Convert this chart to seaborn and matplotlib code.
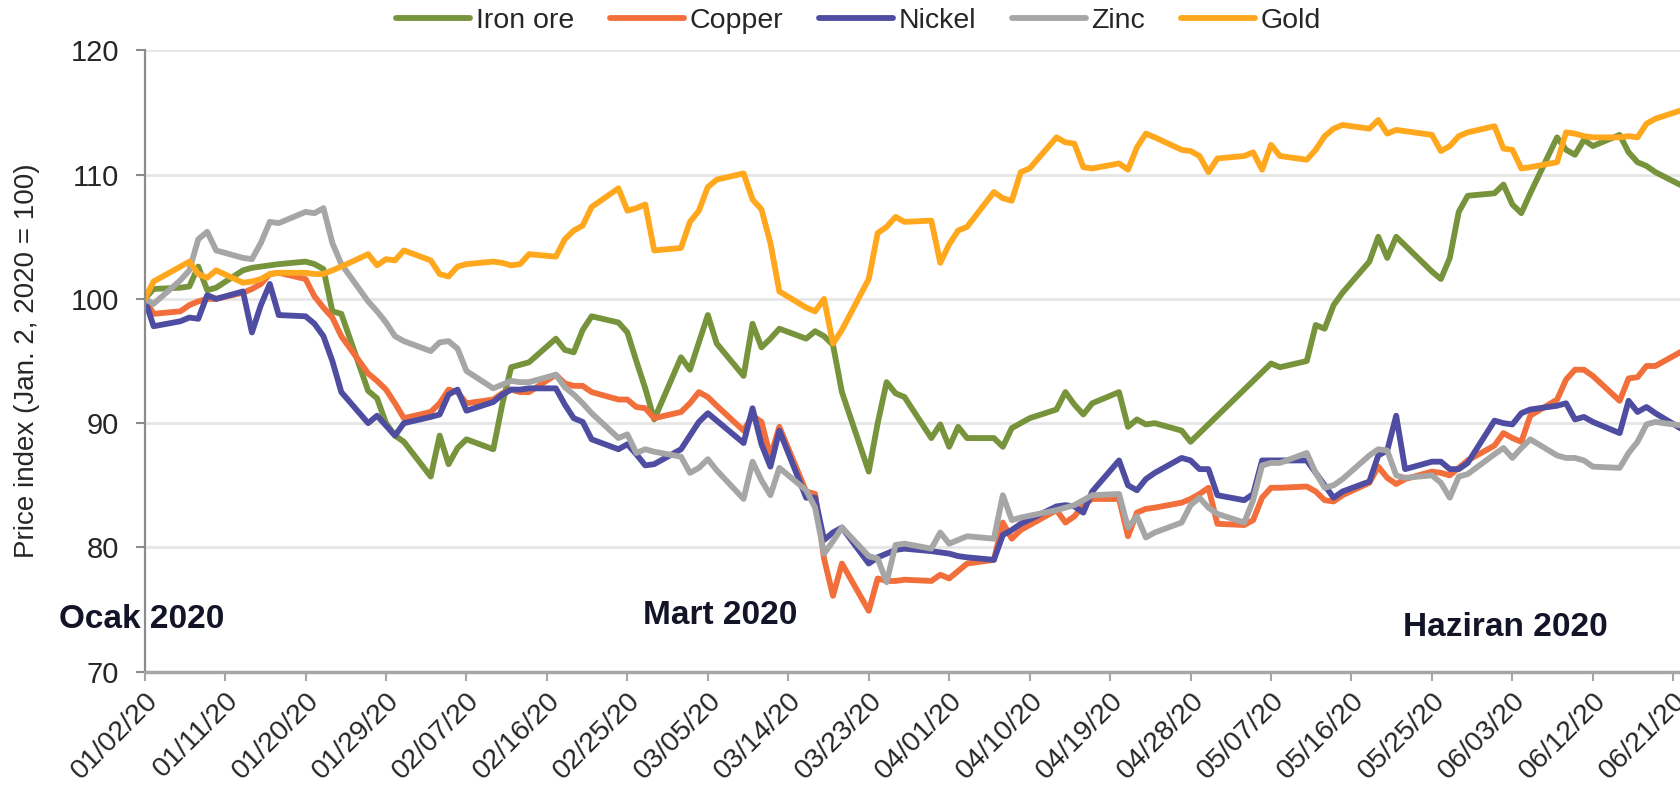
import numpy as np
import pandas as pd
import matplotlib
matplotlib.use("Agg")
import matplotlib.pyplot as plt
import matplotlib.dates as mdates
import seaborn as sns

# trading days on the chart (weekdays 2 Jan - 23 Jun 2020); nan = no quote that day
dates = pd.bdate_range("2020-01-02", "2020-06-23")
nan = np.nan

iron_ore = [
    100, 100.8, 100.9, 101.0, 102.6, 100.7, 100.9, 102.3, 102.5, 102.6, 102.7,
    102.8, 103.0, 102.8, 102.4, 99.0, 98.8, 92.6, 92.0, 90.0, 89.0, 88.5,  # Jan
    85.7, 89.0, 86.7, 88.0, 88.7, 87.9, 91.5, 94.5, 94.7, 94.9, 96.8, 95.9,
    95.7, 97.5, 98.6, 98.1, 97.3, 95.0, 92.8, 90.3,  # Feb
    95.3, 94.3, 96.5, 98.7, 96.4, 93.8, 98.0, 96.1, 96.8, 97.6, 96.8, 97.4,
    97.0, 96.3, 92.5, 86.1, 90.0, 93.3, 92.4, 92.1, 88.8, 89.9,  # Mar
    88.1, 89.7, 88.8, 88.8, 88.1, 89.6, 90.0, 90.4, 91.1, 92.5, 91.5, 90.7,
    91.6, 92.5, 89.7, 90.3, 89.9, 90.0, 89.4, 88.5, nan, nan,  # Apr
    nan, nan, nan, nan, 94.8, 94.5, 95.0, 97.9, 97.6, 99.5, 100.5, 103.0,
    105.0, 103.3, 105.0, 104.3, 102.2, 101.6, 103.3, 107.0, 108.3,  # May
    108.5, 109.2, 107.6, 106.9, 108.5, 113.0, 112.0, 111.6, 112.8, 112.3,
    113.2, 111.8, 111.0, 110.7, 110.2, 109.1, 108.8,  # Jun
]
copper = [
    100, 98.8, 99.0, 99.5, 99.8, 100.0, 100.0, 100.5, 100.8, 101.2, 102.0,
    102.1, 101.6, 100.2, 99.3, 98.5, 97.0, 94.0, 93.4, 92.7, 91.6, 90.4,
    90.9, 91.6, 92.7, 92.5, 91.6, 91.9, 92.4, 92.7, 92.5, 92.5, 93.9, 93.2,
    93.0, 93.0, 92.5, 91.9, 91.9, 91.3, 91.2, 90.4,
    90.9, 91.6, 92.5, 92.1, 91.4, 89.4, 90.6, 90.1, 87.3, 89.7, 84.5, 84.3,
    79.1, 76.1, 78.7, 74.9, 77.5, 77.3, 77.3, 77.4, 77.3, 77.8,
    77.5, 78.1, 78.7, 79.0, 82.0, 80.7, 81.4, nan, 83.0, 82.0, 82.5, 83.4,
    83.9, 83.9, 80.9, 82.8, 83.1, 83.2, 83.6, 83.9, 84.3, 84.8,
    81.9, 81.8, 82.2, 84.0, 84.8, 84.8, 84.9, 84.5, 83.8, 83.7, 84.2, 85.2,
    86.5, 85.6, 85.1, 85.5, 86.1, 86.0, 85.8, 86.4, 87.0,
    88.2, 89.2, 88.8, 88.5, 90.6, 91.9, 93.5, 94.3, 94.3, 93.8, 91.8, 93.6,
    93.7, 94.6, 94.6, 95.8, 96.2,
]
nickel = [
    100, 97.8, 98.2, 98.5, 98.4, 100.3, 100.0, 100.6, 97.3, 99.5, 101.2,
    98.7, 98.6, 98.0, 97.0, 95.0, 92.5, 90.0, 90.6, 89.8, 89.0, 90.0,
    90.5, 90.7, 92.3, 92.7, 91.0, 91.7, 92.3, 92.7, 92.7, 92.8, 92.8, 91.5,
    90.4, 90.1, 88.7, 87.9, 88.3, 87.5, 86.6, 86.7,
    87.9, 89.0, 90.1, 90.8, 90.2, 88.4, 91.2, 88.3, 86.5, 89.4, 84.0, 84.0,
    80.6, 81.2, 81.6, 78.7, 79.2, 79.5, 79.8, 79.9, 79.7, 79.6,
    79.5, 79.3, 79.2, 79.0, 81.0, 81.4, 81.9, nan, 83.3, 83.4, 83.3, 82.8,
    84.5, 87.0, 85.0, 84.6, 85.5, 86.0, 87.2, 87.0, 86.3, 86.3,
    84.2, 83.8, 84.3, 87.0, 87.0, 87.0, 87.0, 86.0, 85.0, 84.0, 84.5, 85.3,
    87.4, 87.8, 90.6, 86.3, 86.9, 86.9, 86.3, 86.3, 86.8,
    90.2, 90.0, 89.9, 90.8, 91.1, 91.4, 91.6, 90.3, 90.5, 90.1, 89.2, 91.8,
    90.9, 91.3, 90.8, 89.5, 89.0,
]
zinc = [
    100, 99.6, 101.5, 102.3, 104.8, 105.4, 103.9, 103.3, 103.2, 104.5, 106.2,
    106.1, 107.0, 106.9, 107.3, 104.5, 102.8, 99.8, 99.0, 98.1, 97.0, 96.6,
    95.8, 96.5, 96.6, 96.0, 94.2, 92.8, 93.1, 93.4, 93.3, 93.3, 93.9, 92.9,
    92.3, 91.6, 90.8, 88.8, 89.1, 87.6, 87.9, 87.7,
    87.3, 86.0, 86.4, 87.1, 86.2, 83.9, 86.9, 85.4, 84.2, 86.4, 84.6, 83.2,
    79.5, 80.5, 81.6, 79.3, 79.1, 77.2, 80.2, 80.3, 79.9, 81.2,
    80.3, 80.6, 80.9, 80.7, 84.2, 82.2, 82.4, nan, 83.0, 83.2, 83.4, 83.8,
    84.2, 84.3, 81.6, 82.5, 80.8, 81.2, 82.0, 83.4, 84.0, 83.2,
    82.7, 82.0, 83.8, 86.6, 86.8, 86.8, 87.6, 86.0, 84.8, 85.0, 85.5, 87.4,
    87.9, 87.8, 85.8, 85.6, 85.8, 85.2, 84.0, 85.7, 85.9,
    87.5, 88.0, 87.2, 88.0, 88.7, 87.4, 87.2, 87.2, 87.0, 86.5, 86.4, 87.6,
    88.5, 89.9, 90.1, 89.8, 89.5,
]
gold = [
    100, 101.4, 102.6, 103.0, 102.0, 101.7, 102.3, 101.3, 101.4, 101.6, 102.0,
    102.1, 102.1, 102.0, 102.0, 102.3, 102.6, 103.6, 102.7, 103.2, 103.1, 103.9,
    103.1, 102.0, 101.8, 102.6, 102.8, 103.0, 102.9, 102.7, 102.8, 103.6, 103.4,
    104.8, 105.5, 105.9, 107.4, 108.9, 107.1, 107.3, 107.6, 103.9,
    104.1, 106.2, 107.1, 109.0, 109.6, 110.1, 108.0, 107.2, 104.5, 100.6, 99.3,
    99.0, 100.0, 96.4, 97.5, 101.6, 105.3, 105.8, 106.6, 106.2, 106.3, 102.9,
    104.4, 105.5, 105.8, 108.6, 108.1, 107.9, 110.2, 110.5, 113.0, 112.6, 112.5,
    110.6, 110.5, 110.9, 110.4, 112.2, 113.3, 113.0, 112.0, 111.9, 111.5, 110.2,
    111.3, 111.5, 111.8, 110.4, 112.4, 111.5, 111.2, 112.0, 113.1, 113.7, 114.0,
    113.7, 114.4, 113.3, 113.6, 113.5, 113.2, 111.9, 112.3, 113.1, 113.4,
    113.9, 112.1, 112.0, 110.5, 110.6, 111.0, 113.4, 113.3, 113.1, 113.0, 113.0,
    113.1, 113.0, 114.1, 114.5, 115.2, 115.6,
]

metals = ["Iron ore", "Copper", "Nickel", "Zinc", "Gold"]
colors = ["#77933C", "#F26E3A", "#4E4DA2", "#A6A6A6", "#FFA81E"]
y_ticks = [70, 80, 90, 100, 110, 120]
tick_dates = pd.date_range("2020-01-02", "2020-06-21", freq="9D")
month_notes = ["Ocak 2020", "Mart 2020", "Haziran 2020"]

df = pd.DataFrame({"date": dates, "Iron ore": iron_ore, "Copper": copper,
                   "Nickel": nickel, "Zinc": zinc, "Gold": gold})
long = df.melt(id_vars="date", var_name="metal", value_name="index").dropna()

sns.set_theme(style="white")
plt.rcParams["font.family"] = ["Liberation Sans", "DejaVu Sans"]

fig = plt.figure(figsize=(16.8, 7.96), dpi=100)
ax = fig.add_axes([0.0861, 0.1562, 0.9139, 0.7805])

sns.lineplot(data=long, x="date", y="index", hue="metal", hue_order=metals,
             palette=dict(zip(metals, colors)), estimator=None, linewidth=4.2,
             legend=False, ax=ax)
for line in ax.lines:
    line.set_solid_joinstyle("round")

ax.set_xlim(pd.Timestamp("2020-01-02"), pd.Timestamp("2020-01-02") + pd.Timedelta(days=171.75))
ax.set_ylim(70, 120)
ax.set_yticks(y_ticks)
ax.set_xticks(tick_dates)
ax.xaxis.set_major_formatter(mdates.DateFormatter("%m/%d/%y"))
plt.setp(ax.get_xticklabels(), rotation=45, ha="right", rotation_mode="anchor")

ax.yaxis.grid(True, color="#E6E6E6", linewidth=2)
ax.xaxis.grid(False)
ax.set_axisbelow(True)
for side in ["top", "right"]:
    ax.spines[side].set_visible(False)
ax.spines["left"].set_color("#8C8C8C")
ax.spines["left"].set_linewidth(1.6)
ax.spines["bottom"].set_color("#A6A6A6")
ax.spines["bottom"].set_linewidth(2.5)

ax.tick_params(axis="x", bottom=True, length=6.5, width=1.5, color="#A6A6A6",
               labelsize=20.5, labelcolor="#262626", pad=5)
ax.tick_params(axis="y", left=True, length=6.5, width=1.5, color="#8C8C8C",
               labelsize=21, labelcolor="#262626", pad=12)

ax.set_xlabel("")
ax.set_ylabel("Price index (Jan. 2, 2020 = 100)", fontsize=20, color="#262626")
ax.yaxis.set_label_coords(-0.068, 0.5)

fig.legend(ax.lines[:5], metals, loc="center", bbox_to_anchor=(0.511, 0.974),
           ncol=5, frameon=False, fontsize=20.5, handlelength=2.6,
           handletextpad=0.2, columnspacing=1.25)

note_pos = [(59, 619), (643, 616), (1403, 627)]
for text, (px, py) in zip(month_notes, note_pos):
    fig.text(px / 1680, 1 - py / 796, text, ha="left", va="center",
             fontsize=24, fontweight="bold", color="#141428")

fig.savefig("out.png", dpi=100)
